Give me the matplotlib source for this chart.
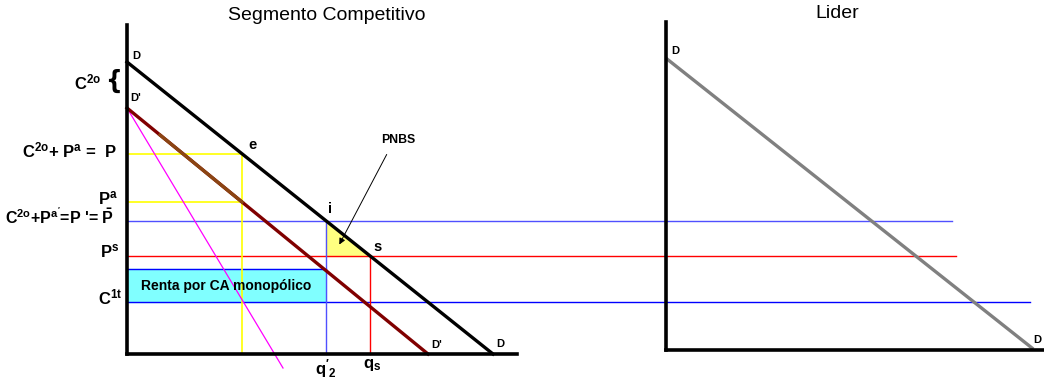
import matplotlib.pyplot as plt

plt.rcParams['font.family'] = ['Liberation Sans', 'DejaVu Sans']
plt.rcParams['mathtext.fontset'] = 'custom'
plt.rcParams['mathtext.rm'] = 'Liberation Sans:bold'
plt.rcParams['mathtext.it'] = 'Liberation Sans:bold'
plt.rcParams['mathtext.bf'] = 'Liberation Sans:bold'

# diagram geometry in picture pixels (y grows downward)
left_origin = (127, 354)
left_top = 25
left_right = 517
right_origin = (666, 350)
right_top = 22
right_right = 1044

demand = [(127, 62), (493, 354)]          # D
demand_prime = [(127, 108), (428, 354)]   # D'
demand_brown = [(160, 135), (242, 202)]   # brownish middle part of D'
mr_line = [(127, 108), (283, 368)]        # magenta
leader_demand = [(667, 59), (1032, 348)]  # grey D in Lider

y_P, y_Pa, y_Pbar, y_Ps, y_rent_top, y_C1t = 154, 202, 221, 256, 269, 302
x_e, x_i, x_s = 242, 326, 370
end_Pbar, end_Ps, end_C1t = 952, 956, 1030

fig = plt.figure(figsize=(10.44, 3.83), dpi=100)
ax = fig.add_axes([0, 0, 1, 1])
ax.set_xlim(0, 1044)
ax.set_ylim(383, 0)
ax.axis('off')

# shaded areas
ax.fill([x_i, x_i, x_s], [y_Pbar, y_Ps, y_Ps], color='#ffff80', zorder=1)
ax.fill([127, x_i, x_i, 127], [y_rent_top, y_rent_top, y_C1t, y_C1t],
        color='#80ffff', zorder=1)

# horizontal guide lines
ax.plot([127, x_e], [y_P, y_P], color='#ffff00', lw=1.2, zorder=2)
ax.plot([127, x_e], [y_Pa, y_Pa], color='#ffff00', lw=1.2, zorder=2)
ax.plot([127, end_Pbar], [y_Pbar, y_Pbar], color='#5050ff', lw=1.0, zorder=2)
ax.plot([127, end_Ps], [y_Ps, y_Ps], color='#ff0000', lw=1.0, zorder=2)
ax.plot([127, x_i], [y_rent_top, y_rent_top], color='#0000ff', lw=1.0, zorder=2)
ax.plot([127, end_C1t], [y_C1t, y_C1t], color='#0000ff', lw=1.0, zorder=2)

# vertical guide lines
ax.plot([x_e, x_e], [y_P, 354], color='#ffff00', lw=1.2, zorder=2)
ax.plot([x_i, x_i], [y_Pbar, 354], color='#5050ff', lw=1.0, zorder=2)
ax.plot([x_s, x_s], [y_Ps, 354], color='#ff0000', lw=1.0, zorder=2)

# curves
ax.plot(*zip(*mr_line), color='#ff00ff', lw=0.9, zorder=3)
ax.plot(*zip(*demand_prime), color='#800000', lw=2.4, zorder=3)
ax.plot(*zip(*demand_brown), color='#8b4513', lw=2.4, zorder=3)
ax.plot(*zip(*demand), color='black', lw=2.4, zorder=3)
ax.plot(*zip(*leader_demand), color='#808080', lw=2.4, zorder=3)

# axes
ax.plot([left_origin[0], left_origin[0]], [left_top, left_origin[1]], color='black', lw=2.6, zorder=4)
ax.plot([left_origin[0], left_right], [left_origin[1], left_origin[1]], color='black', lw=2.6, zorder=4)
ax.plot([right_origin[0], right_origin[0]], [right_top, right_origin[1]], color='black', lw=2.6, zorder=4)
ax.plot([right_origin[0], right_right], [right_origin[1], right_origin[1]], color='black', lw=2.6, zorder=4)

# titles
ax.text(327, 15, 'Segmento Competitivo', ha='center', va='center', fontsize=14)
ax.text(837, 14, 'Lider', ha='center', va='center', fontsize=14)

lab = dict(fontsize=8, fontweight='bold', va='center', zorder=5)
ax.text(132, 56, 'D', ha='left', **lab)
ax.text(130, 98, "D'", ha='left', **lab)
big = dict(fontsize=10.5, fontweight='bold', va='center', ha='left')
ax.text(248, 145, 'e', **big)
ax.text(328, 209, 'i', **big)
ax.text(373, 247, 's', **big)
ax.text(431, 345, "D'", ha='left', **lab)
ax.text(496, 344, 'D', ha='left', **lab)
ax.text(671, 51, 'D', ha='left', **lab)
ax.text(1033, 340, 'D', ha='left', **lab)

ax.text(398, 140, 'PNBS', ha='center', va='center', fontsize=8.8, fontweight='bold')
ax.annotate('', xy=(338, 247), xytext=(388, 152),
            arrowprops=dict(arrowstyle='-|>', color='black', lw=0.7,
                            mutation_scale=9), zorder=5)

ax.text(226, 286, 'Renta por CA monopólico', ha='center', va='center',
        fontsize=10, fontweight='bold', zorder=5)

# left axis labels
tl = dict(va='center', fontsize=12, fontweight='bold')
ax.text(101, 82, r'$\mathrm{C}^{2o}$', ha='right', **tl)
ax.text(113, 81, '{', ha='center', va='center', fontsize=17,
        fontweight='bold', family='DejaVu Sans Condensed')
ax.text(117, 150, r'$\mathrm{C}^{2o}$+ $\mathrm{P}^{a}$ =  P', ha='right', **tl)
ax.text(108, 198, r'$\mathrm{P}^{a}$', ha='center', **tl)
ax.text(114, 217, r"$\mathrm{C}^{2o}$+$\mathrm{P}^{a'}$=P '= $\bar{\mathrm{P}}$",
        ha='right', va='center', fontsize=11.5, fontweight='bold')
ax.text(110, 251, r'$\mathrm{P}^{s}$', ha='center', **tl)
ax.text(110, 297, r'$\mathrm{C}^{1t}$', ha='center', **tl)

# x axis labels
ax.text(326, 369, r"$\mathrm{q}'_{2}$", ha='center', **tl)
ax.text(372, 365, r'$\mathrm{q}_{s}$', ha='center', **tl)

fig.savefig('out.png', dpi=100)
